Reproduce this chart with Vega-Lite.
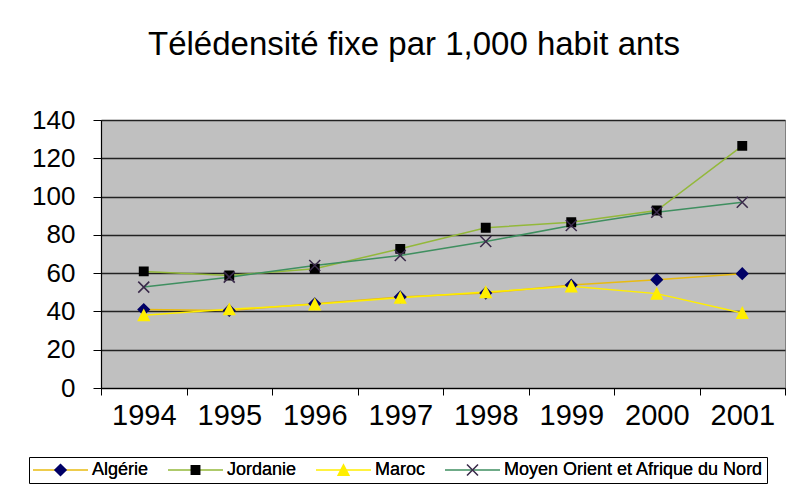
{
  "$schema": "https://vega.github.io/schema/vega-lite/v6.json",
  "autosize": {"type": "none"},
  "width": 684,
  "height": 268,
  "padding": {"left": 101, "top": 120, "right": 18, "bottom": 113},
  "background": "white",
  "title": {
    "text": "Télédensité fixe par 1,000 habit ants",
    "font": "Liberation Sans",
    "fontSize": 33,
    "fontWeight": "normal",
    "color": "black",
    "anchor": "middle",
    "dx": -29,
    "offset": 45
  },
  "data": {
    "values": [
      {"annee": "1994", "serie": "Algérie", "valeur": 41.0},
      {"annee": "1995", "serie": "Algérie", "valeur": 40.5},
      {"annee": "1996", "serie": "Algérie", "valeur": 44.0},
      {"annee": "1997", "serie": "Algérie", "valeur": 47.6},
      {"annee": "1998", "serie": "Algérie", "valeur": 49.6},
      {"annee": "1999", "serie": "Algérie", "valeur": 53.8},
      {"annee": "2000", "serie": "Algérie", "valeur": 56.6},
      {"annee": "2001", "serie": "Algérie", "valeur": 59.7},
      {"annee": "1994", "serie": "Jordanie", "valeur": 60.9},
      {"annee": "1995", "serie": "Jordanie", "valeur": 58.8},
      {"annee": "1996", "serie": "Jordanie", "valeur": 62.3},
      {"annee": "1997", "serie": "Jordanie", "valeur": 72.7},
      {"annee": "1998", "serie": "Jordanie", "valeur": 83.7},
      {"annee": "1999", "serie": "Jordanie", "valeur": 86.6},
      {"annee": "2000", "serie": "Jordanie", "valeur": 92.7},
      {"annee": "2001", "serie": "Jordanie", "valeur": 126.5},
      {"annee": "1994", "serie": "Maroc", "valeur": 38.0},
      {"annee": "1995", "serie": "Maroc", "valeur": 41.1},
      {"annee": "1996", "serie": "Maroc", "valeur": 43.7},
      {"annee": "1997", "serie": "Maroc", "valeur": 47.2},
      {"annee": "1998", "serie": "Maroc", "valeur": 50.1},
      {"annee": "1999", "serie": "Maroc", "valeur": 53.1},
      {"annee": "2000", "serie": "Maroc", "valeur": 49.3},
      {"annee": "2001", "serie": "Maroc", "valeur": 39.2},
      {"annee": "1994", "serie": "Moyen Orient et Afrique du Nord", "valeur": 52.7},
      {"annee": "1995", "serie": "Moyen Orient et Afrique du Nord", "valeur": 57.9},
      {"annee": "1996", "serie": "Moyen Orient et Afrique du Nord", "valeur": 64.0},
      {"annee": "1997", "serie": "Moyen Orient et Afrique du Nord", "valeur": 69.2},
      {"annee": "1998", "serie": "Moyen Orient et Afrique du Nord", "valeur": 76.5},
      {"annee": "1999", "serie": "Moyen Orient et Afrique du Nord", "valeur": 84.9},
      {"annee": "2000", "serie": "Moyen Orient et Afrique du Nord", "valeur": 91.8},
      {"annee": "2001", "serie": "Moyen Orient et Afrique du Nord", "valeur": 97.0}
    ]
  },
  "encoding": {
    "x": {
      "field": "annee",
      "type": "ordinal",
      "scale": {"type": "band", "paddingInner": 0, "paddingOuter": 0},
      "axis": {
        "title": null,
        "labelAngle": 0,
        "labelFont": "Liberation Sans",
        "labelFontSize": 29,
        "labelColor": "black",
        "labelPadding": 6,
        "tickBand": "extent",
        "tickSize": 7,
        "tickColor": "black",
        "domainColor": "black",
        "domainWidth": 1.2,
        "grid": false
      }
    },
    "y": {
      "field": "valeur",
      "type": "quantitative",
      "scale": {"domain": [0, 140], "nice": false},
      "axis": {
        "title": null,
        "values": [0, 20, 40, 60, 80, 100, 120, 140],
        "labelFont": "Liberation Sans",
        "labelFontSize": 26,
        "labelColor": "black",
        "labelPadding": 18,
        "tickSize": 8,
        "tickColor": "black",
        "domainColor": "black",
        "domainWidth": 1.2,
        "grid": true,
        "gridColor": "#222222",
        "gridWidth": 1.5
      }
    }
  },
  "layer": [
    {
      "mark": {"type": "line", "strokeWidth": 1.5},
      "encoding": {
        "color": {
          "field": "serie",
          "type": "nominal",
          "scale": {"range": ["#e8bb10", "#93b83a", "#ffee00", "#3f8f60"]},
          "legend": {
            "title": null,
            "orient": "none",
            "legendX": -72,
            "legendY": 337,
            "direction": "horizontal",
            "symbolType": "stroke",
            "symbolSize": 3025,
            "symbolStrokeWidth": 1.5,
            "clipHeight": 20,
            "labelFont": "Liberation Sans",
            "labelFontSize": 18,
            "labelColor": "black",
            "labelLimit": 400,
            "labelOffset": 3,
            "columnPadding": 18,
            "padding": 3,
            "strokeColor": "black"
          }
        }
      }
    },
    {
      "mark": {"type": "point", "filled": true, "opacity": 1, "size": 3025},
      "encoding": {
        "fill": {
          "field": "serie",
          "type": "nominal",
          "scale": {
            "domain": ["Algérie", "Jordanie", "Maroc", "Moyen Orient et Afrique du Nord"],
            "range": ["#000066", "#000000", "#ffee00", "#3a2a4a"]
          },
          "legend": {
            "title": null,
            "orient": "none",
            "legendX": -72,
            "legendY": 337,
            "direction": "horizontal",
            "symbolSize": 3025,
            "symbolStrokeWidth": 1.5,
            "symbolStrokeColor": "transparent",
            "symbolOpacity": 1,
            "clipHeight": 20,
            "labelFont": "Liberation Sans",
            "labelFontSize": 18,
            "labelColor": "black",
            "labelLimit": 400,
            "labelOffset": 3,
            "columnPadding": 18,
            "padding": 3
          }
        },
        "shape": {
          "field": "serie",
          "type": "nominal",
          "scale": {
            "domain": ["Algérie", "Jordanie", "Maroc", "Moyen Orient et Afrique du Nord"],
            "range": [
              "M-1,0H1M0,-0.24L0.24,0L0,0.24L-0.24,0Z",
              "M-1,0H1M-0.18,-0.18H0.18V0.18H-0.18Z",
              "M-1,0H1M0,-0.25L0.24,0.22H-0.24Z",
              "M-1,0H1M-0.22,-0.18L-0.18,-0.22L0.22,0.18L0.18,0.22Z M0.18,-0.22L0.22,-0.18L-0.18,0.22L-0.22,0.18Z"
            ]
          },
          "legend": {
            "title": null,
            "orient": "none",
            "legendX": -72,
            "legendY": 337,
            "direction": "horizontal",
            "symbolSize": 3025,
            "symbolStrokeWidth": 1.5,
            "symbolStrokeColor": "transparent",
            "symbolOpacity": 1,
            "clipHeight": 20,
            "labelFont": "Liberation Sans",
            "labelFontSize": 18,
            "labelColor": "black",
            "labelLimit": 400,
            "labelOffset": 3,
            "columnPadding": 18,
            "padding": 3
          }
        }
      }
    }
  ],
  "config": {
    "view": {"fill": "#c0c0c0", "stroke": "#808080", "strokeWidth": 1}
  }
}
